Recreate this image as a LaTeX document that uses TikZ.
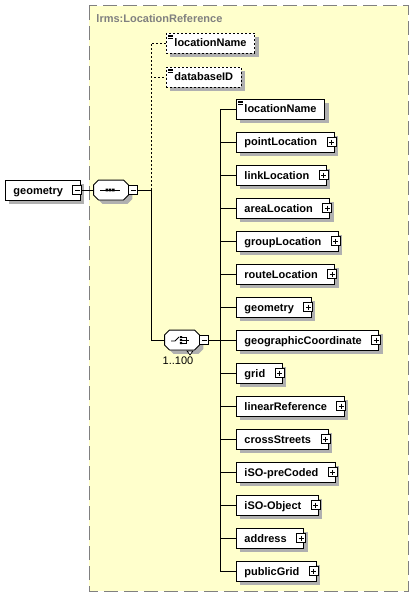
\documentclass[tikz,border=0pt]{standalone}
\usepackage{fontspec}
\setmainfont{Liberation Sans}
\usepackage{tikz}
\usetikzlibrary{positioning, shadows}
\definecolor{schemabg}{RGB}{255,255,204}
\definecolor{framegray}{RGB}{128,128,128}
\definecolor{shadowgray}{RGB}{176,176,176}
\newcommand{\elemfont}{\fontsize{11}{13}\selectfont\bfseries}
\newcommand{\occfont}{\fontsize{11}{13}\selectfont}
\tikzset{%
	element/.style={
		rectangle,
		draw,
		fill=white,
		minimum height=20pt,
		inner xsep=8pt,
		inner ysep=0pt,
		text height=8pt,
		text depth=0pt,
		font=\elemfont,
		anchor=west,
		drop shadow={shadow xshift=4pt, shadow yshift=-4pt, fill=shadowgray, opacity=1}
	},
	complex/.style={
		element,
		execute at end node={\hspace{9pt}}
	},
	optional/.style={
		dash pattern=on 2pt off 2pt
	},
	simple/.style={
		path picture={
			\foreach \k in {2,3.8,5.6}
				\draw[solid, line width=0.8pt] ([xshift=2pt, yshift=-\k pt]path picture bounding box.north west) -- ++(5,0);
		}
	},
	compositor/.style={
		rectangle,
		minimum width=34pt,
		minimum height=19pt,
		inner sep=0pt
	},
	octagon/.style={
		draw,
		fill=white,
		drop shadow={shadow xshift=4pt, shadow yshift=-4pt, fill=shadowgray, opacity=1}
	},
	toggle/.style={
		rectangle,
		draw,
		fill=white,
		minimum size=9pt,
		inner sep=0pt
	},
	minusbox/.style={
		toggle,
		path picture={
			\draw ([xshift=2pt]path picture bounding box.west) -- ([xshift=-2pt]path picture bounding box.east);
		}
	},
	plusbox/.style={
		toggle,
		path picture={
			\draw ([xshift=2pt]path picture bounding box.west) -- ([xshift=-2pt]path picture bounding box.east)
				([yshift=-2pt]path picture bounding box.north) -- ([yshift=2pt]path picture bounding box.south);
		}
	},
}
\begin{document}
\begin{tikzpicture}[x=1pt, y=-1pt, line width=0.9pt]
	\useasboundingbox (0,0) rectangle (414,599);
	% complex type frame
	\draw[framegray, line width=1pt, dash pattern=on 14pt off 6pt, fill=schemabg] (89,6) rectangle (408,591);
	\node[anchor=base west, text=framegray, font=\elemfont, inner sep=0pt] (schemaTitle) at (96,23) {lrms:LocationReference};

	% root element and compositors
	\node[complex] (root) at (5,190) {geometry};
	\node[minusbox] (rootToggle) at ([xshift=-3pt]root.east) {};
	\node[compositor] (seq) at (111,190) {};
	\node[compositor] (choice) at (182,340) {};
	\foreach \c in {seq, choice}
		\draw[octagon] ([xshift=5pt]\c.north west) -- ([xshift=-5pt]\c.north east) -- ([yshift=-5pt]\c.north east)
			-- ([yshift=5pt]\c.south east) -- ([xshift=-5pt]\c.south east) -- ([xshift=5pt]\c.south west)
			-- ([yshift=5pt]\c.south west) -- ([yshift=-5pt]\c.north west) -- cycle;

	% sequence
	\node[minusbox, anchor=west] (seqToggle) at (seq.east) {};
	\begin{scope}[shift={(seq.center)}]
		\draw[line width=0.8pt] (-11,0) -- (9,0);
		\fill (-5.4,-1.3) rectangle (-2.8,1.3) (-2.2,-1.3) rectangle (0.4,1.3) (1,-1.3) rectangle (3.6,1.3);
	\end{scope}
	\coordinate (seqBus) at (151,190);
	\draw (rootToggle.east) -- (seq.west);
	\draw (seqToggle.east) -- (seqBus);

	% optional attributes of the sequence
	\node[element, optional, simple] (optName) at (166,43) {locationName};
	\node[element, optional, simple] (optDbId) at (166,77) {databaseID};
	\draw[optional] (seqBus) |- (optName.west);
	\draw[optional] (seqBus) |- (optDbId.west);

	% choice
	\node[minusbox, anchor=west] (choiceToggle) at (choice.east) {};
	\begin{scope}[shift={(choice.center)}]
		\draw[line width=0.8pt] (-11,1) -- (-7,1) -- (-3,-3);
		\fill (-2.2,-4) rectangle (0,-2) (-2.2,-1) rectangle (0,1) (-2.2,2) rectangle (0,4);
		\draw[line width=0.8pt] (0,-3) -- (4,-3) -- (4,3) -- (0,3) (0,0) -- (7,0);
	\end{scope}
	\draw[fill=white, line width=0.7pt] ([shift={(5,1)}]choice.south) -- ++(6,0) -- ++(-3,4) -- cycle;
	\node[font=\occfont, inner sep=0pt] (occ) at (178,361) {1..100};
	\coordinate (choiceBus) at (220,340);
	\draw (seqBus) |- (choice.west);
	\draw (choiceToggle.east) -- (choiceBus);

	% choice members
	\node[element, simple] (locName) at (236,109) {locationName};
	\node[complex] (pointLoc) at (236,142) {pointLocation};
	\node[complex] (linkLoc) at (236,175) {linkLocation};
	\node[complex] (areaLoc) at (236,208) {areaLocation};
	\node[complex] (groupLoc) at (236,241) {groupLocation};
	\node[complex] (routeLoc) at (236,274) {routeLocation};
	\node[complex] (geom) at (236,307) {geometry};
	\node[complex] (geoCoord) at (236,340) {geographicCoordinate};
	\node[complex] (grid) at (236,373) {grid\hspace{5pt}};
	\node[complex] (linearRef) at (236,406) {linearReference};
	\node[complex] (crossSt) at (236,439) {crossStreets};
	\node[complex] (isoPre) at (236,472) {iSO-preCoded};
	\node[complex] (isoObj) at (236,505) {iSO-Object};
	\node[complex] (address) at (236,538) {address};
	\node[complex] (publicGrid) at (236,571) {publicGrid};

	\node[plusbox] (pointLocToggle) at ([xshift=-3pt]pointLoc.east) {};
	\node[plusbox] (linkLocToggle) at ([xshift=-3pt]linkLoc.east) {};
	\node[plusbox] (areaLocToggle) at ([xshift=-3pt]areaLoc.east) {};
	\node[plusbox] (groupLocToggle) at ([xshift=-3pt]groupLoc.east) {};
	\node[plusbox] (routeLocToggle) at ([xshift=-3pt]routeLoc.east) {};
	\node[plusbox] (geomToggle) at ([xshift=-3pt]geom.east) {};
	\node[plusbox] (geoCoordToggle) at ([xshift=-3pt]geoCoord.east) {};
	\node[plusbox] (gridToggle) at ([xshift=-3pt]grid.east) {};
	\node[plusbox] (linearRefToggle) at ([xshift=-3pt]linearRef.east) {};
	\node[plusbox] (crossStToggle) at ([xshift=-3pt]crossSt.east) {};
	\node[plusbox] (isoPreToggle) at ([xshift=-3pt]isoPre.east) {};
	\node[plusbox] (isoObjToggle) at ([xshift=-3pt]isoObj.east) {};
	\node[plusbox] (addressToggle) at ([xshift=-3pt]address.east) {};
	\node[plusbox] (publicGridToggle) at ([xshift=-3pt]publicGrid.east) {};

	\draw (choiceBus) |- (locName.west)
		(choiceBus) |- (pointLoc.west)
		(choiceBus) |- (linkLoc.west)
		(choiceBus) |- (areaLoc.west)
		(choiceBus) |- (groupLoc.west)
		(choiceBus) |- (routeLoc.west)
		(choiceBus) |- (geom.west)
		(choiceBus) -- (geoCoord.west)
		(choiceBus) |- (grid.west)
		(choiceBus) |- (linearRef.west)
		(choiceBus) |- (crossSt.west)
		(choiceBus) |- (isoPre.west)
		(choiceBus) |- (isoObj.west)
		(choiceBus) |- (address.west)
		(choiceBus) |- (publicGrid.west);
\end{tikzpicture}
\end{document}
